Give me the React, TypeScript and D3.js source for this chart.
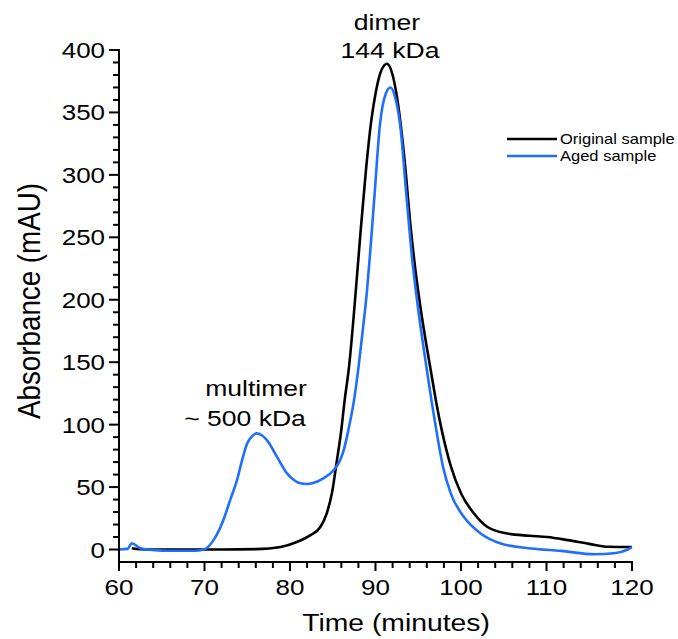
import React from "react";
import * as d3 from "d3";

// chromatogram traces (time in minutes, absorbance in mAU)
const originalTime = [61.5, 62.5, 64, 68, 72, 76, 78.9, 80.8, 82.4, 83.55, 84.3, 84.9, 85.5, 85.95, 86.4, 86.9, 87.55, 88.2, 88.9, 89.5, 90.0, 90.7, 91.35, 92.0, 92.45, 93.4, 94.1, 94.7, 95.3, 95.9, 96.5, 97.1, 97.8, 98.8, 100.0, 101.5, 103.1, 105.4, 108, 110.1, 112.5, 115, 117.2, 120];
const originalAbs = [1, 0.2, 0, 0, 0, 0.3, 2, 6, 11.5, 18, 29, 45, 72, 93, 120, 146, 195, 250, 305, 343, 365, 384, 389, 380, 365, 312, 259, 222, 192, 166, 142, 118, 94, 67, 45, 29, 18, 12.8, 11, 10, 7.5, 4.5, 2.2, 2];

const agedTime = [60, 61, 61.5, 62.5, 64.2, 66, 69, 70.1, 71.05, 72.2, 73.0, 73.8, 74.4, 75.0, 75.6, 76.1, 76.7, 77.3, 78.5, 79.65, 80.5, 81.2, 82.0, 82.6, 83.9, 85.1, 85.9, 86.3, 86.9, 87.5, 88.05, 88.55, 89.0, 89.4, 89.9, 90.5, 91.2, 91.76, 92.3, 92.9, 93.6, 94.3, 94.85, 95.4, 96.0, 96.6, 97.2, 97.9, 98.8, 100.35, 102.3, 104.65, 108.2, 111.7, 115.6, 117.9, 119.5, 120];
const agedAbs = [0, 0.5, 5, 1, -0.5, -1, -1, 0.5, 7.5, 23.5, 39.5, 55.5, 71.6, 85, 91, 93, 91.5, 87.6, 74, 61, 55.5, 53, 52.5, 53, 57, 63.5, 72, 80, 98, 120, 148, 178, 207, 240, 285, 339, 365, 370, 362, 339, 285, 232, 200, 172, 144, 117, 92, 66, 45, 26, 12.8, 4.8, 0.8, -1.1, -3.8, -3, 0, 2];

const xMajor = [60, 70, 80, 90, 100, 110, 120];
const yMajor = [0, 50, 100, 150, 200, 250, 300, 350, 400];

const seriesNames = ["Original sample", "Aged sample"];
const seriesColors = ["#000000", "#1f6fff"];

const W = 678;
const H = 639;
const FONT = "'Liberation Sans', Arial, Helvetica, sans-serif";
const SX = 1.18; // the figure's text is stretched a little horizontally

function SText(props: any) {
  const { x, y, size, anchor, children } = props;
  return (
    <text
      transform={`translate(${x},${y}) scale(${SX},1)`}
      textAnchor={anchor || "start"}
      fontSize={size}
      fontFamily={FONT}
      fill="#000"
    >
      {children}
    </text>
  );
}

export default function App() {
  const x = d3.scaleLinear().domain([60, 120]).range([119, 632]);
  const y = d3.scaleLinear().domain([-10, 400]).range([562, 50]);

  const line = d3
    .line<[number, number]>()
    .x((d) => x(d[0]))
    .y((d) => y(d[1]))
    .curve(d3.curveMonotoneX);

  const original = originalTime.map((t, i) => [t, originalAbs[i]] as [number, number]);
  const aged = agedTime.map((t, i) => [t, agedAbs[i]] as [number, number]);

  const xMinor = d3.range(60, 121, 2).filter((v) => v % 10 !== 0);
  const yMinor = d3.range(0, 401, 10).filter((v) => v % 50 !== 0);

  const [x0, x1] = x.range();
  const [yb, yt] = y.range();

  return (
    <svg
      width={W}
      height={H}
      style={{ position: "absolute", left: 0, top: 0, background: "#fff" }}
    >
      {/* traces */}
      <path d={line(original) || ""} fill="none" stroke={seriesColors[0]} strokeWidth={2.6} />
      <path d={line(aged) || ""} fill="none" stroke={seriesColors[1]} strokeWidth={2.6} />

      {/* y axis */}
      <line x1={x0} x2={x0} y1={yt - 1} y2={yb} stroke="#000" strokeWidth={2} />
      {yMinor.map((v) => (
        <line key={"ym" + v} x1={x0 - 6} x2={x0} y1={y(v)} y2={y(v)} stroke="#000" strokeWidth={2} />
      ))}
      {yMajor.map((v) => (
        <g key={"yM" + v}>
          <line x1={x0 - 10} x2={x0} y1={y(v)} y2={y(v)} stroke="#000" strokeWidth={2} />
          <SText x={105} y={y(v) + 8} size={22} anchor="end">
            {v}
          </SText>
        </g>
      ))}

      {/* x axis */}
      <line x1={x0 - 1} x2={x1 + 1} y1={yb} y2={yb} stroke="#000" strokeWidth={2} />
      {xMinor.map((v) => (
        <line key={"xm" + v} x1={x(v)} x2={x(v)} y1={yb} y2={yb + 6} stroke="#000" strokeWidth={2} />
      ))}
      {xMajor.map((v) => (
        <g key={"xM" + v}>
          <line x1={x(v)} x2={x(v)} y1={yb} y2={yb + 9} stroke="#000" strokeWidth={2} />
          <SText x={x(v)} y={595} size={22} anchor="middle">
            {v}
          </SText>
        </g>
      ))}

      {/* axis titles */}
      <SText x={396} y={631} size={24} anchor="middle">
        Time (minutes)
      </SText>
      <text
        transform="translate(40,301) rotate(-90) scale(1,1.18)"
        textAnchor="middle"
        fontSize={26}
        fontFamily={FONT}
        textLength={236}
        lengthAdjust="spacingAndGlyphs"
      >
        Absorbance (mAU)
      </text>

      {/* peak annotations */}
      <SText x={387} y={30} size={22.5} anchor="middle">
        dimer
      </SText>
      <SText x={390} y={58} size={22.5} anchor="middle">
        144 kDa
      </SText>
      <SText x={256} y={396} size={22.5} anchor="middle">
        multimer
      </SText>
      <SText x={245} y={426} size={22.5} anchor="middle">
        ~ 500 kDa
      </SText>

      {/* legend */}
      {seriesNames.map((name, i) => (
        <g key={name}>
          <line
            x1={507}
            x2={557}
            y1={139 + i * 17}
            y2={139 + i * 17}
            stroke={seriesColors[i]}
            strokeWidth={2.6}
          />
          <SText x={560} y={143.5 + i * 17} size={14}>
            {name}
          </SText>
        </g>
      ))}
    </svg>
  );
}
